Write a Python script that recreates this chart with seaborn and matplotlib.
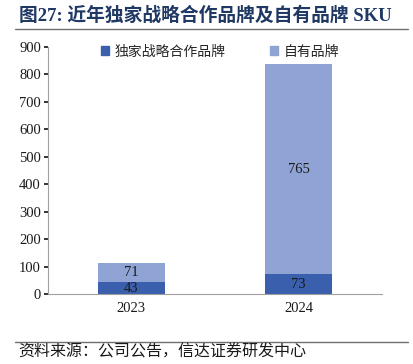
import pandas as pd
import seaborn as sns
import matplotlib.pyplot as plt
from matplotlib.lines import Line2D

# data
years = ['2023', '2024']
exclusive = [43, 73]
own = [71, 765]
series_names = ['独家战略合作品牌', '自有品牌']
colors = ['#3A5FAD', '#8FA3D4']

sns.set_theme(style='white')
plt.rcParams['font.family'] = ['Liberation Serif', 'Noto Sans CJK SC', 'DejaVu Sans']

df = pd.DataFrame({'year': years, 'exclusive': exclusive, 'own': own})
df['total'] = df['exclusive'] + df['own']

fig = plt.figure(figsize=(4.13, 3.64), dpi=100)
ax = fig.add_axes([0.116, 0.192, 0.809, 0.679])

# stacked bars: draw total first, then the bottom segment on top
sns.barplot(data=df, x='year', y='total', color=colors[1], width=0.4,
            saturation=1, linewidth=0, ax=ax)
sns.barplot(data=df, x='year', y='exclusive', color=colors[0], width=0.4,
            saturation=1, linewidth=0, ax=ax)

for i, row in df.iterrows():
    ax.text(i, row['exclusive'] / 2, str(row['exclusive']), ha='center', va='center',
            fontsize=10.5, color='#1a1a1a')
    ax.text(i, row['exclusive'] + row['own'] / 2, str(row['own']), ha='center', va='center',
            fontsize=10.5, color='#1a1a1a')

ax.set_ylim(0, 900)
ax.set_yticks(range(0, 901, 100))
ax.set_xlim(-0.5, 1.5)
ax.set_xlabel('')
ax.set_ylabel('')
ax.tick_params(axis='both', labelsize=10.5, colors='#1a1a1a', length=3, direction='out')
ax.tick_params(axis='x', length=0, pad=6)
ax.tick_params(axis='y', left=True, pad=2)
for s in ['top', 'right']:
    ax.spines[s].set_visible(False)
for s in ['left', 'bottom']:
    ax.spines[s].set_color('#a0a0a0')
    ax.spines[s].set_linewidth(0.8)

handles = [plt.Rectangle((0, 0), 1, 1, color=colors[0]),
           plt.Rectangle((0, 0), 1, 1, color=colors[1])]
ax.legend(handles, series_names, ncol=2, frameon=False, loc='upper left',
          bbox_to_anchor=(0.12, 1.06), handlelength=0.6, handleheight=0.6,
          handletextpad=0.4, columnspacing=3.2, prop={'family': ['Noto Sans CJK SC'], 'size': 10})

# title and source
fig.text(0.045, 0.958, '图27: 近年独家战略合作品牌及自有品牌 SKU', fontsize=13.5,
         fontweight='bold', color='#1F3864', va='center',
         family=['Liberation Serif', 'Noto Sans CJK SC'])
fig.add_artist(Line2D([0.036, 0.988], [0.92, 0.92], color='#707070', lw=1))
fig.add_artist(Line2D([0.036, 0.988], [0.06, 0.06], color='#707070', lw=1))
fig.text(0.045, 0.032, '资料来源：公司公告，信达证券研发中心', fontsize=11.5, style='italic',
         color='#1a1a1a', va='center', family=['Noto Sans CJK SC'])

fig.savefig('out.png', dpi=100)
